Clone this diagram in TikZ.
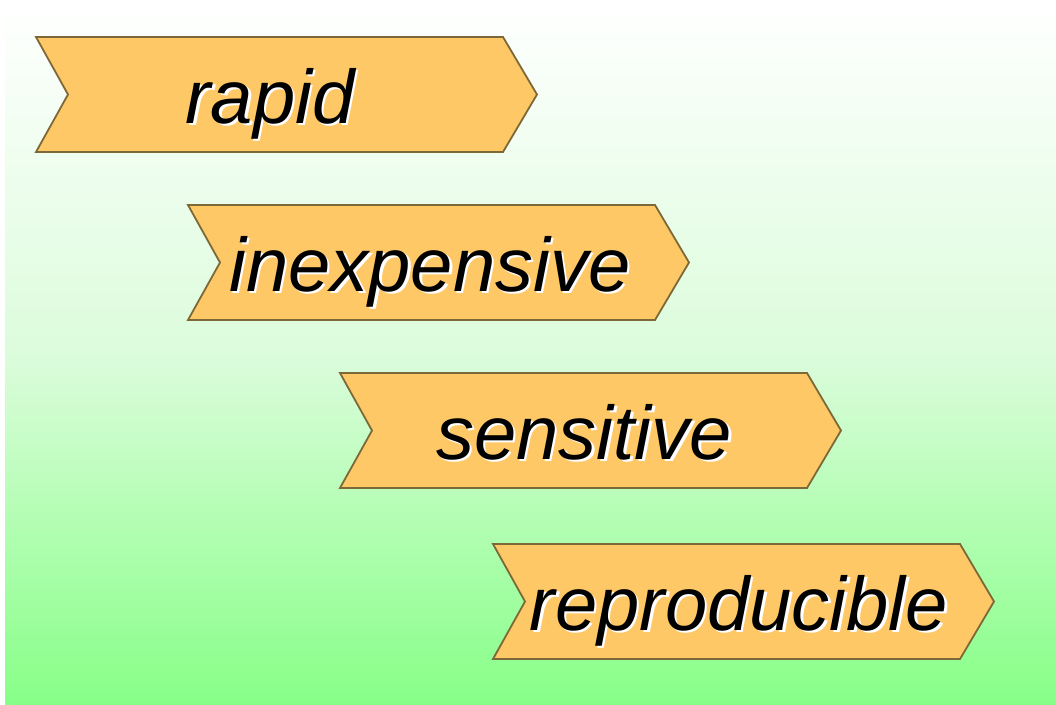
\documentclass[tikz,border=0pt]{standalone}
\usepackage{fontspec}
\setmainfont{Liberation Sans}
\newcommand{\shadowtext}[1]{\makebox[0pt][l]{\hspace{2.5pt}\raisebox{-2.5pt}{\color{white}#1}}#1}
\begin{document}
\begin{tikzpicture}[x=1pt,y=-1pt,
  chevron/.style={fill={rgb,255:red,255;green,200;blue,102},draw={rgb,255:red,125;green,105;blue,55},line width=1.8pt,line join=miter},
  label/.style={anchor=base,inner sep=0pt,font=\fontsize{76}{80}\selectfont\itshape,text=black}]
\useasboundingbox (0,0) rectangle (1056,704);
\shade[top color=white,bottom color={rgb,255:red,135;green,255;blue,135},middle color={rgb,255:red,220;green,252;blue,220}]
  (5,0) rectangle (1056,704);
\foreach \n/\L/\T/\dx/\txt in {a/36/37/234/rapid,b/188/205/242/inexpensive,c/340/373/244/sensitive,d/493/544/246/reproducible}{
  \coordinate (\n-nw) at (\L,\T);
  \coordinate (\n-ne) at (\L+467,\T);
  \coordinate (\n-tip) at (\L+501,\T+57.5);
  \coordinate (\n-se) at (\L+467,\T+115);
  \coordinate (\n-sw) at (\L,\T+115);
  \coordinate (\n-notch) at (\L+32,\T+57.5);
  \draw[chevron] (\n-nw) -- (\n-ne) -- (\n-tip) -- (\n-se) -- (\n-sw) -- (\n-notch) -- cycle;
  \node[label] (\n) at (\L+\dx,\T+86) {\shadowtext{\txt}};
}
\end{tikzpicture}
\end{document}
